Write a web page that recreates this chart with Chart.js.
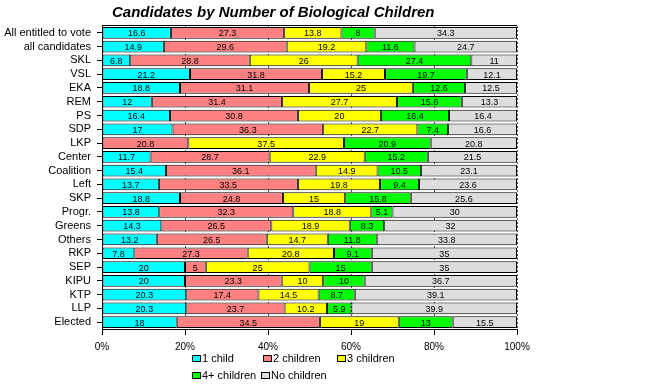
<!DOCTYPE html>
<html>
<head>
<meta charset="utf-8">
<script src="https://cdn.jsdelivr.net/npm/chart.js@4/dist/chart.umd.min.js"></script>
<style>
  html, body { margin: 0; padding: 0; background: #fff; }
  #wrap { width: 666px; height: 384px; }
</style>
</head>
<body>
<div id="wrap"><canvas id="kidsChart" width="666" height="384"></canvas></div>
<script>
var categories = ["All entitled to vote", "all candidates", "SKL", "VSL", "EKA", "REM", "PS", "SDP", "LKP",
    "Center", "Coalition", "Left", "SKP", "Progr.", "Greens", "Others", "RKP", "SEP", "KIPU", "KTP", "LLP", "Elected"];

var oneChild    = [16.6, 14.9, 6.8, 21.2, 18.8, 12, 16.4, 17, 0, 11.7, 15.4, 13.7, 18.8, 13.8, 14.3, 13.2, 7.8, 20, 20, 20.3, 20.3, 18];
var twoChildren = [27.3, 29.6, 28.8, 31.8, 31.1, 31.4, 30.8, 36.3, 20.8, 28.7, 36.1, 33.5, 24.8, 32.3, 26.5, 26.5, 27.3, 5, 23.3, 17.4, 23.7, 34.5];
var threeChildren = [13.8, 19.2, 26, 15.2, 25, 27.7, 20, 22.7, 37.5, 22.9, 14.9, 19.8, 15, 18.8, 18.9, 14.7, 20.8, 25, 10, 14.5, 10.2, 19];
var fourPlus    = [8, 11.6, 27.4, 19.7, 12.6, 15.6, 16.4, 7.4, 20.9, 15.2, 10.5, 9.4, 15.8, 5.1, 8.3, 11.8, 9.1, 15, 10, 8.7, 5.9, 13];
var noChildren  = [34.3, 24.7, 11, 12.1, 12.5, 13.3, 16.4, 16.6, 20.8, 21.5, 23.1, 23.6, 25.6, 30, 32, 33.8, 35, 35, 36.7, 39.1, 39.9, 15.5];

var seriesNames = ["1 child", "2 children", "3 children", "4+ children", "No children"];
var seriesColors = ["#00FFFF", "#FF8080", "#FFFF00", "#00FF00", "#DDDDDD"];
var xTicks = [0, 20, 40, 60, 80, 100];

var chartTitle = "Candidates by Number of Biological Children";

var font = "'Liberation Sans', Arial, sans-serif";

// legend, title and value labels drawn by hand
var extras = {
    id: "extras",
    afterDatasetsDraw: function (chart) {
        var ctx = chart.ctx;
        ctx.save();
        ctx.fillStyle = "#000";
        ctx.font = "9px 'Liberation Sans Narrow', " + font;
        ctx.textAlign = "center";
        ctx.textBaseline = "middle";
        chart.data.datasets.forEach(function (ds, i) {
            var meta = chart.getDatasetMeta(i);
            meta.data.forEach(function (bar, j) {
                var v = ds.data[j];
                if (!v) return;
                var p = bar.getProps(["x", "y", "base"], true);
                ctx.fillText(String(v), (p.x + p.base) / 2, p.y + 1);
            });
        });
        // top border of plot
        var a = chart.chartArea;
        ctx.strokeStyle = "#000";
        ctx.lineWidth = 1;
        ctx.beginPath();
        ctx.moveTo(a.left, a.top - 0.5);
        ctx.lineTo(a.right, a.top - 0.5);
        ctx.stroke();
        ctx.restore();
    },
    afterDraw: function (chart) {
        var ctx = chart.ctx;
        ctx.save();
        ctx.fillStyle = "#000";
        ctx.font = "italic bold 15px " + font;
        ctx.textAlign = "left";
        ctx.textBaseline = "middle";
        ctx.fillText(chartTitle, 112, 13);

        var spots = [[192, 359], [263, 359], [337, 359], [192, 376], [261, 376]];
        ctx.font = "11px " + font;
        seriesNames.forEach(function (name, i) {
            var x = spots[i][0], y = spots[i][1];
            ctx.fillStyle = seriesColors[i];
            ctx.fillRect(x, y - 4, 8, 6);
            ctx.strokeStyle = "#000";
            ctx.lineWidth = 1;
            ctx.strokeRect(x + 0.5, y - 3.5, 8, 6);
            ctx.fillStyle = "#000";
            ctx.fillText(name, x + 10, y);
        });
        ctx.restore();
    }
};

var datasets = [oneChild, twoChildren, threeChildren, fourPlus, noChildren].map(function (vals, i) {
    return {
        label: seriesNames[i],
        data: vals,
        backgroundColor: seriesColors[i],
        borderColor: "#000",
        borderWidth: 1,
        borderSkipped: false,
        categoryPercentage: 1,
        barPercentage: 0.85
    };
});

var kidsChart = new Chart(document.getElementById("kidsChart").getContext("2d"), {
    type: "bar",
    data: {
        labels: categories,
        datasets: datasets
    },
    options: {
        indexAxis: "y",
        responsive: false,
        animation: false,
        layout: {
            padding: { top: 26, right: 149, left: 0, bottom: 0 }
        },
        plugins: {
            legend: { display: false },
            title: { display: false },
            tooltip: { enabled: false }
        },
        scales: {
            x: {
                stacked: true,
                min: 0,
                max: 100,
                afterBuildTicks: function (scale) {
                    scale.ticks = xTicks.map(function (v) { return { value: v }; });
                },
                afterFit: function (scale) { scale.height = 55; },
                ticks: {
                    color: "#000",
                    padding: 6,
                    font: { family: font, size: 10 },
                    maxRotation: 0,
                    callback: function (v) { return v + "%"; }
                },
                grid: {
                    color: "#555",
                    tickColor: "#000",
                    tickLength: 6
                },
                border: { display: true, color: "#000", dash: [2, 2] }
            },
            y: {
                stacked: true,
                afterFit: function (scale) { scale.width = 102; },
                ticks: {
                    color: "#000",
                    padding: 6,
                    autoSkip: false,
                    font: { family: font, size: 11 }
                },
                grid: {
                    offset: false,
                    drawOnChartArea: false,
                    tickColor: "#000",
                    tickLength: 5
                },
                border: { display: true, color: "#000" }
            }
        }
    },
    plugins: [extras]
});
</script>
</body>
</html>
